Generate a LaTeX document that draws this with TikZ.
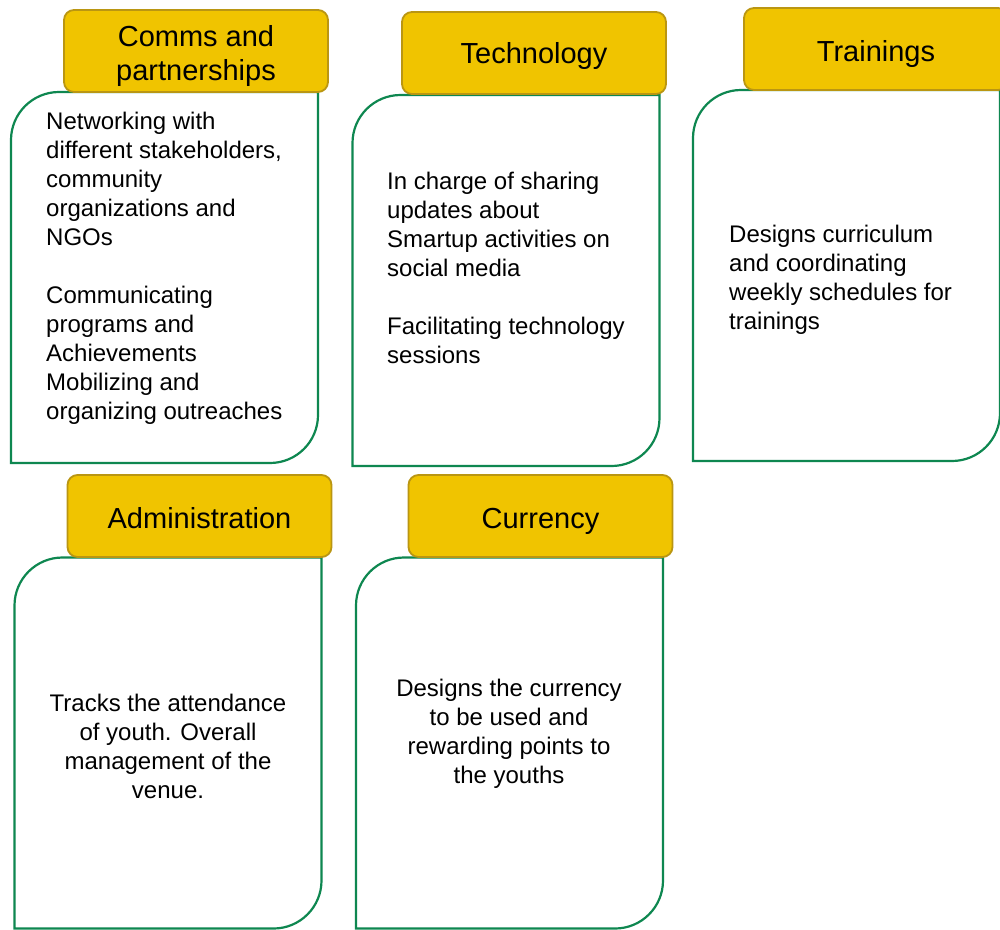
\documentclass[tikz,border=0pt]{standalone}
\usepackage{fontspec}
\setmainfont{Liberation Sans}

\definecolor{tabgold}{RGB}{240,196,0}
\definecolor{tabedge}{RGB}{186,150,18}
\definecolor{cardgreen}{RGB}{14,135,80}

% outline of a card: round top-left and bottom-right corners only
\newcommand{\cardframe}[1]{%
  \draw[cardline] (#1.south west) -- ([yshift=-48pt]#1.north west)
    arc[start angle=180,end angle=90,radius=48pt] -- (#1.north east)
    -- ([yshift=48pt]#1.south east)
    arc[start angle=0,end angle=-90,radius=48pt] -- cycle;}

\begin{document}
\begin{tikzpicture}[x=1pt,y=-1pt,
  card/.style={minimum width=307pt,minimum height=371pt,inner sep=0pt,outer sep=0pt},
  cardline/.style={draw=cardgreen,line width=2.2pt},
  tab/.style={rectangle,rounded corners=10pt,fill=tabgold,draw=tabedge,line width=1.8pt,
    minimum width=264pt,minimum height=82pt,inner sep=0pt},
  tabtext/.style={inner sep=0pt,align=center,font=\fontsize{29}{34}\selectfont},
  note/.style={inner sep=0pt,font=\fontsize{24}{29}\selectfont}]
\useasboundingbox (0,0) rectangle (1000,929);
\clip (0,0) rectangle (1000,929);
\fill[white] (0,0) rectangle (1000,929);

% card bodies
\node [card] (b1) at (164.5,277.5) {};
\node [card] (b2) at (506,280.5) {};
\node [card] (b3) at (846.5,275.5) {};
\node [card] (b4) at (168,743) {};
\node [card] (b5) at (509.5,743) {};
\cardframe{b1}
\cardframe{b2}
\cardframe{b3}
\cardframe{b4}
\cardframe{b5}

% headers
\node [tab] (h1) at (196,51) {};
\node [tab] (h2) at (534,53) {};
\node [tab] (h3) at (876,49) {};
\node [tab] (h4) at (199.5,516) {};
\node [tab] (h5) at (540.5,516) {};
\node [tabtext] (h1t) at ([yshift=-5pt]h1) {Comms and\\partnerships};
\node [tabtext] (h2t) at ([yshift=-3pt]h2) {Technology};
\node [tabtext] (h3t) at ([yshift=-5pt]h3) {Trainings};
\node [tabtext] (h4t) at ([yshift=-2pt]h4) {Administration};
\node [tabtext] (h5t) at ([yshift=-5pt]h5) {Currency};

% texts
\node [note,anchor=north west,align=left] (t1) at (46,112)
  {Networking with\\different stakeholders,\\community\\organizations and\\NGOs\\[29pt]
   Communicating\\programs and\\Achievements\\Mobilizing and\\organizing outreaches};
\node [note,anchor=north west,align=left] (t2) at (387,172)
  {In charge of sharing\\updates about\\Smartup activities on\\social media\\[29pt]
   Facilitating technology\\sessions};
\node [note,anchor=north west,align=left] (t3) at (729,225)
  {Designs curriculum\\and coordinating\\weekly schedules for\\trainings};
\node [note,anchor=north,align=center] (t4) at (168,694)
  {Tracks the attendance\\of youth. Overall\\management of the\\venue.};
\node [note,anchor=north,align=center] (t5) at (509,679)
  {Designs the currency\\to be used and\\rewarding points to\\the youths};
\end{tikzpicture}
\end{document}
